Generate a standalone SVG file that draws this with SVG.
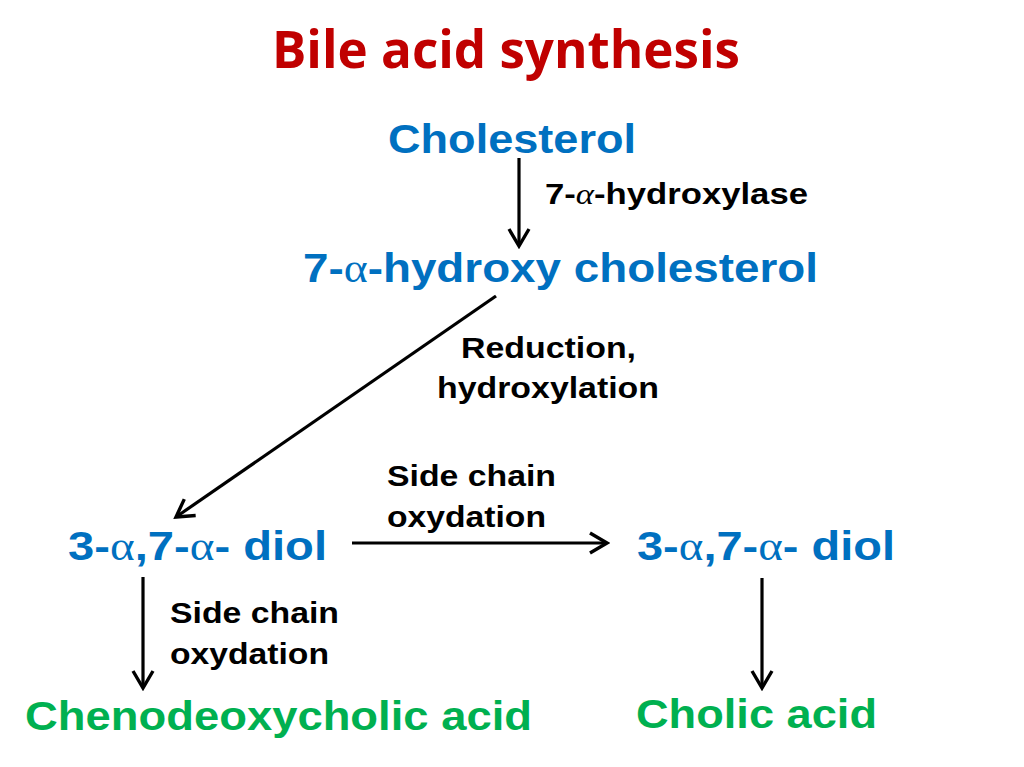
<svg xmlns="http://www.w3.org/2000/svg" width="1024" height="767" viewBox="0 0 1024 767">
<defs>
<marker id="ah" viewBox="0 0 24 24" refX="21" refY="12" markerWidth="24" markerHeight="24" markerUnits="userSpaceOnUse" orient="auto">
<path d="M4,2 L21,12 L4,22" fill="none" stroke="#000" stroke-width="3.4"/>
</marker>
<style>
.t{font-family:"Open Sans","Liberation Sans",sans-serif;font-weight:bold;fill:#C00000}
.b{font-family:"Liberation Sans",Arial,sans-serif;font-weight:bold;fill:#0070C0;font-size:40px}
.g{font-family:"Liberation Sans",Arial,sans-serif;font-weight:bold;fill:#00B050;font-size:40px}
.l{font-family:"Liberation Sans",Arial,sans-serif;font-weight:bold;fill:#000;font-size:29px}
.a{font-family:"Liberation Serif","Times New Roman",serif;font-weight:normal}
.c{stroke:#000;stroke-width:3.2;fill:none;marker-end:url(#ah)}
</style>
</defs>
<rect width="1024" height="767" fill="#fff"/>
<text class="t" x="272" y="68" font-size="52" textLength="468" lengthAdjust="spacingAndGlyphs">Bile acid synthesis</text>
<g id="connectors">
<line class="c" x1="519" y1="158" x2="519" y2="246"/>
<line class="c" x1="496" y1="296" x2="176" y2="517"/>
<line class="c" x1="352" y1="543" x2="607" y2="543"/>
<line class="c" x1="143" y1="577" x2="143" y2="688"/>
<line class="c" x1="762" y1="578" x2="762" y2="688"/>
<text class="l" x="545" y="204" textLength="263" lengthAdjust="spacingAndGlyphs">7-<tspan class="a" font-style="italic">α</tspan>-hydroxylase</text>
<text class="l" x="461" y="358" textLength="175" lengthAdjust="spacingAndGlyphs">Reduction,</text>
<text class="l" x="437" y="398" textLength="222" lengthAdjust="spacingAndGlyphs">hydroxylation</text>
<text class="l" x="387" y="486" textLength="169" lengthAdjust="spacingAndGlyphs">Side chain</text>
<text class="l" x="387" y="527" textLength="159" lengthAdjust="spacingAndGlyphs">oxydation</text>
<text class="l" x="170" y="623" textLength="169" lengthAdjust="spacingAndGlyphs">Side chain</text>
<text class="l" x="170" y="664" textLength="159" lengthAdjust="spacingAndGlyphs">oxydation</text>
</g>
<g id="cholesterol"><text class="b" x="388" y="153" textLength="248" lengthAdjust="spacingAndGlyphs">Cholesterol</text></g>
<g id="hydroxy-cholesterol"><text class="b" x="303" y="282" textLength="515" lengthAdjust="spacingAndGlyphs">7-<tspan class="a">α</tspan>-hydroxy cholesterol</text></g>
<g id="diol-left"><text class="b" x="68" y="560" textLength="259" lengthAdjust="spacingAndGlyphs">3-<tspan class="a">α</tspan>,7-<tspan class="a">α</tspan>- diol</text></g>
<g id="diol-right"><text class="b" x="637" y="560" textLength="258" lengthAdjust="spacingAndGlyphs">3-<tspan class="a">α</tspan>,7-<tspan class="a">α</tspan>- diol</text></g>
<g id="chenodeoxycholic"><text class="g" x="25" y="730" textLength="507" lengthAdjust="spacingAndGlyphs">Chenodeoxycholic acid</text></g>
<g id="cholic"><text class="g" x="636" y="728" textLength="241" lengthAdjust="spacingAndGlyphs">Cholic acid</text></g>
</svg>
